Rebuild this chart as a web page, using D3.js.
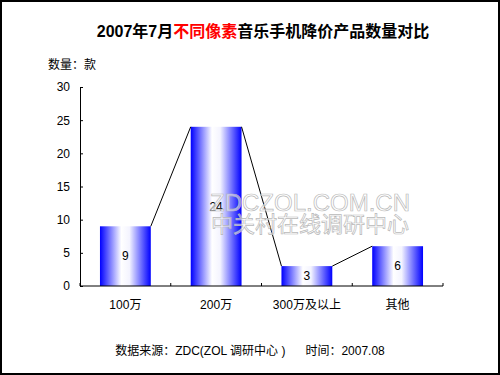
<!DOCTYPE html>
<html>
<head>
<meta charset="utf-8">
<script src="https://cdn.jsdelivr.net/npm/d3@7"></script>
<style>
  body { margin: 0; background: #fff; }
  text { font-family: "Liberation Sans", Arial, "Noto Sans CJK SC", sans-serif; }
</style>
</head>
<body>
<script>
// chart values
var categories = ["100万", "200万", "300万及以上", "其他"];
var counts = [9, 24, 3, 6];
var yTicks = [0, 5, 10, 15, 20, 25, 30];

var W = 500, H = 375;
var margin = {top: 87, right: 57, bottom: 89, left: 80};
var width = W - margin.left - margin.right,
    height = H - margin.top - margin.bottom;

var svg = d3.select("body").append("svg")
    .attr("width", W)
    .attr("height", H);

// frame
svg.append("rect")
    .attr("x", 1).attr("y", 1)
    .attr("width", W - 2).attr("height", H - 2)
    .attr("fill", "#fff")
    .attr("stroke", "#000")
    .attr("stroke-width", 2);

var defs = svg.append("defs");
var grad = defs.append("linearGradient")
    .attr("id", "barGrad")
    .attr("x1", "0%").attr("x2", "100%")
    .attr("y1", "0%").attr("y2", "0%");
grad.append("stop").attr("offset", "0%").attr("stop-color", "#0000ff");
grad.append("stop").attr("offset", "42%").attr("stop-color", "#ffffff");
grad.append("stop").attr("offset", "58%").attr("stop-color", "#f4f4ff");
grad.append("stop").attr("offset", "100%").attr("stop-color", "#0000ff");

// title
var title = svg.append("text")
    .attr("x", 263).attr("y", 37)
    .attr("text-anchor", "middle")
    .style("font-size", "16px")
    .style("font-weight", "bold");
title.append("tspan").text("2007年7月");
title.append("tspan").attr("fill", "#ff0000").text("不同像素");
title.append("tspan").text("音乐手机降价产品数量对比");

svg.append("text")
    .attr("x", 48).attr("y", 69)
    .style("font-size", "12px")
    .text("数量：款");

var g = svg.append("g")
    .attr("transform", "translate(" + margin.left + "," + margin.top + ")");

var x = d3.scaleBand()
    .domain(categories)
    .range([0, width])
    .paddingInner(0.44)
    .paddingOuter(0.22);

var y = d3.scaleLinear()
    .domain([0, 30])
    .range([height, 0]);

// bars
g.selectAll(".bar")
    .data(counts)
  .enter().append("rect")
    .attr("class", "bar")
    .attr("x", function(d, i) { return x(categories[i]); })
    .attr("y", function(d) { return y(d); })
    .attr("width", x.bandwidth())
    .attr("height", function(d) { return height - y(d); })
    .attr("fill", "url(#barGrad)");

// connector lines between bar tops
var links = d3.pairs(counts.map(function(d, i) { return {c: categories[i], v: d}; }));
g.selectAll(".link")
    .data(links)
  .enter().append("line")
    .attr("class", "link")
    .attr("x1", function(p) { return x(p[0].c) + x.bandwidth(); })
    .attr("y1", function(p) { return y(p[0].v); })
    .attr("x2", function(p) { return x(p[1].c); })
    .attr("y2", function(p) { return y(p[1].v); })
    .attr("stroke", "#000")
    .attr("stroke-width", 1);

// value labels
g.selectAll(".val")
    .data(counts)
  .enter().append("text")
    .attr("class", "val")
    .attr("x", function(d, i) { return x(categories[i]) + x.bandwidth() / 2; })
    .attr("y", function(d) { return (y(d) + height) / 2; })
    .attr("dy", "0.35em")
    .attr("text-anchor", "middle")
    .style("font-size", "12px")
    .text(function(d) { return d; });

// watermark, drawn over the bars
var wm = g.append("g")
    .attr("fill", "#ffffff")
    .attr("fill-opacity", 0.55)
    .attr("stroke", "#b8b8b8")
    .attr("stroke-width", 0.7)
    .attr("text-anchor", "middle");
wm.append("text")
    .attr("x", 230).attr("y", 124)
    .style("font-size", "24px")
    .text("ZDCZOL.COM.CN");
wm.append("text")
    .attr("x", 230).attr("y", 145)
    .style("font-size", "22px")
    .text("中关村在线调研中心");

// y axis
var yAxis = g.append("g")
    .call(d3.axisLeft(y).tickValues(yTicks).tickSize(-3).tickPadding(10));
yAxis.select(".domain").attr("stroke", "#000");
yAxis.selectAll("text").style("font-size", "12px").attr("fill", "#000");

// x axis: ticks at band boundaries
var xAxis = g.append("g")
    .attr("transform", "translate(0," + height + ")");
xAxis.append("line")
    .attr("x1", 0).attr("x2", width)
    .attr("stroke", "#000");
var step = x.step();
xAxis.selectAll(".xtick")
    .data(d3.range(categories.length + 1))
  .enter().append("line")
    .attr("class", "xtick")
    .attr("x1", function(i) { return i * step; })
    .attr("x2", function(i) { return i * step; })
    .attr("y1", 0).attr("y2", -3)
    .attr("stroke", "#000");
xAxis.selectAll(".xlab")
    .data(categories)
  .enter().append("text")
    .attr("class", "xlab")
    .attr("x", function(d) { return x(d) + x.bandwidth() / 2; })
    .attr("y", 23)
    .attr("text-anchor", "middle")
    .style("font-size", "12px")
    .text(function(d) { return d; });

// footer
svg.append("text")
    .attr("x", 250).attr("y", 355)
    .attr("text-anchor", "middle")
    .style("font-size", "12px")
    .attr("xml:space", "preserve")
    .text("数据来源：ZDC(ZOL 调研中心 )      时间：2007.08");
</script>
</body>
</html>
